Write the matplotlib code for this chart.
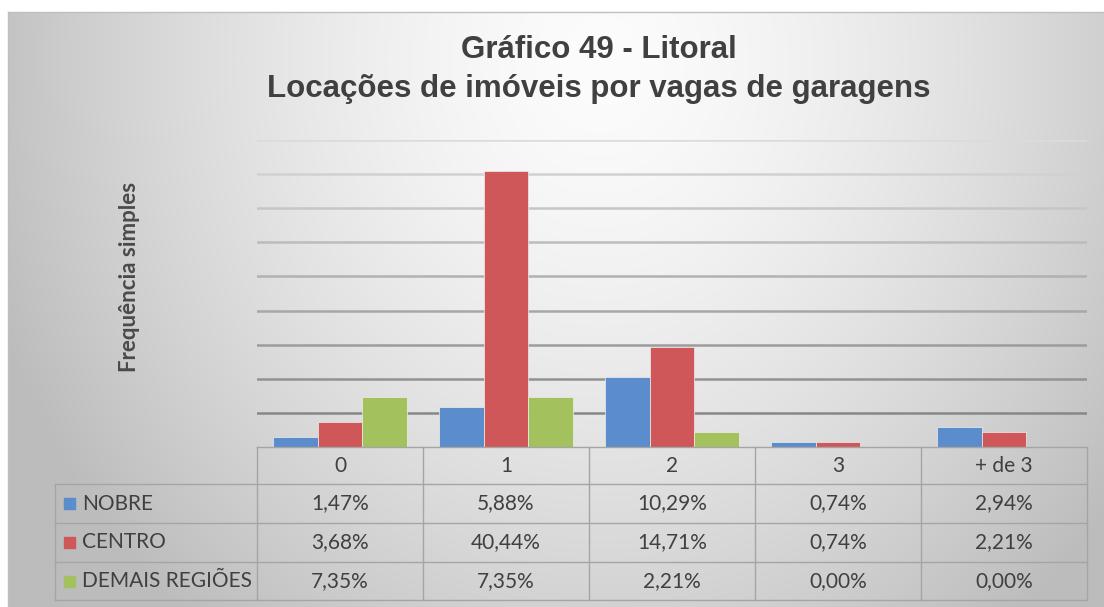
import numpy as np
import matplotlib.pyplot as plt
from matplotlib.patches import Rectangle

plt.rcParams['font.family'] = ['Lato', 'DejaVu Sans']

categorias = ["0", "1", "2", "3", "+ de 3"]
regioes = ["NOBRE", "CENTRO", "DEMAIS REGIÕES"]
nobre = [1.47, 5.88, 10.29, 0.74, 2.94]
centro = [3.68, 40.44, 14.71, 0.74, 2.21]
demais = [7.35, 7.35, 2.21, 0.00, 0.00]
cores = ["#5b8ccb", "#cf5759", "#a3c15d"]

W, H = 1104, 607
fig = plt.figure(figsize=(W / 100, H / 100), dpi=100)

# fundo com degradê cinza
fundo = fig.add_axes([0, 0, 1, 1], zorder=0)
yy, xx = np.mgrid[0:H, 0:W]
d = np.sqrt(((xx - 600) / 620) ** 2 + ((yy - 60) / 700) ** 2)
g = np.clip(252 - 60 * d ** 1.5, 188, 252) / 255
img = np.dstack([g, g, g])
img[:12, :] = 1
img[:, :8] = 1
fundo.imshow(img, extent=(0, W, H, 0), aspect='auto', interpolation='bilinear')
fundo.set_xlim(0, W)
fundo.set_ylim(H, 0)
fundo.axis('off')
fundo.plot([8, W], [12, 12], color='#bfbfbf', lw=1)
fundo.plot([8, 8], [12, H], color='#bfbfbf', lw=1)

# área das barras
x0, x1 = 257, 1087
y_base, y_top = 447, 140
ax = fig.add_axes([x0 / W, 1 - y_base / H, (x1 - x0) / W, (y_base - y_top) / H], zorder=1)
ax.patch.set_alpha(0)
pos = np.arange(len(categorias))
larg = 0.268
for k, (serie, cor) in enumerate(zip([nobre, centro, demais], cores)):
    ax.bar(pos + (k - 1) * larg, serie, larg, color=cor, edgecolor='#eeeeee', linewidth=0.5, zorder=3)
ax.set_xlim(-0.5, 4.5)
ax.set_ylim(0, 45)
niveis = np.arange(5, 50, 5)
tons = np.linspace(0.53, 0.86, len(niveis))
for v, t in zip(niveis, tons):
    ax.axhline(v, color=str(t), lw=1.8, zorder=1)
for s in ax.spines.values():
    s.set_visible(False)
ax.set_xticks([])
ax.set_yticks([])

# tabela de dados
tab = fig.add_axes([0, 0, 1, 1], zorder=2)
tab.set_xlim(0, W)
tab.set_ylim(H, 0)
tab.axis('off')
tab.patch.set_alpha(0)
cor_linha = '#a5a5a5'
col = np.linspace(x0, x1, len(categorias) + 1)
lin = [447, 484, 523, 562, 600]
x_rot = 55
tab.plot([x0, x1], [lin[0], lin[0]], color=cor_linha, lw=1)
for y in lin[1:]:
    tab.plot([x_rot, x1], [y, y], color=cor_linha, lw=1)
for x in col:
    tab.plot([x, x], [lin[0], lin[-1]], color=cor_linha, lw=1)
tab.plot([x_rot, x_rot], [lin[1], lin[-1]], color=cor_linha, lw=1)

centros = (col[:-1] + col[1:]) / 2
for c, nome in zip(centros, categorias):
    tab.text(c, (lin[0] + lin[1]) / 2, nome, ha='center', va='center', fontsize=15, color='#404040')

for i, (nome, serie, cor) in enumerate(zip(regioes, [nobre, centro, demais], cores)):
    yc = (lin[i + 1] + lin[i + 2]) / 2
    tab.add_patch(Rectangle((64, yc - 5.5), 11, 11, color=cor))
    tab.text(82, yc, nome, ha='left', va='center', fontsize=15, color='#404040')
    for c, v in zip(centros, serie):
        txt = f"{v:.2f}".replace('.', ',') + '%'
        tab.text(c, yc, txt, ha='center', va='center', fontsize=15, color='#404040')

# títulos
tab.text(599, 58, "Gráfico 49 - Litoral", ha='center', va='baseline', fontsize=22.5,
         fontweight='bold', family='Liberation Sans', color='#404040')
tab.text(599, 97, "Locações de imóveis por vagas de garagens", ha='center', va='baseline',
         fontsize=22.5, fontweight='bold', family='Liberation Sans', color='#404040')
tab.text(129, 277, "Frequência simples", rotation=90, ha='center', va='center',
         fontsize=16, fontweight='bold', color='#4a4a4a')

fig.savefig('out.png', dpi=100)
